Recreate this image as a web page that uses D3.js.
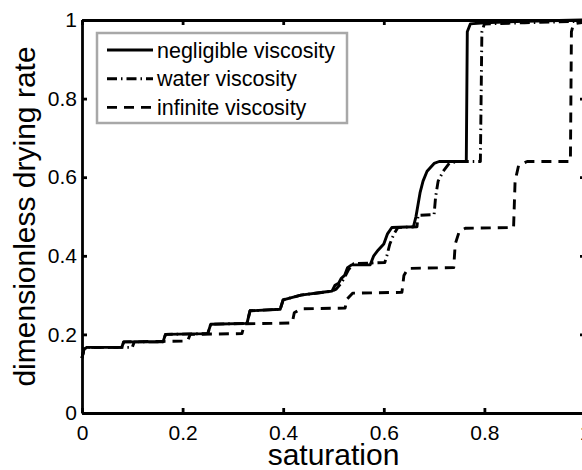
<!DOCTYPE html>
<html>
<head>
<meta charset="utf-8">
<title>drying rate vs saturation</title>
<script src="https://cdn.jsdelivr.net/npm/d3@7"></script>
<style>
  body { margin: 0; background: #fff; }
  svg { display: block; }
  .axis text { font: 21px "Liberation Sans", Arial, sans-serif; fill: #000; }
  .axis path, .axis line { fill: none; stroke: #000; stroke-width: 2.8; }
  .label { font: 30px "Liberation Sans", Arial, sans-serif; fill: #000; }
  .legend text { font: 21.5px "Liberation Sans", Arial, sans-serif; fill: #000; }
  .curve { fill: none; stroke: #000; stroke-width: 2.9; stroke-linejoin: round; }
</style>
</head>
<body>
<svg class="chart"></svg>
<script>
// series names, in legend order
var seriesNames = ["negligible viscosity", "water viscosity", "infinite viscosity"];

// negligible viscosity
var negS = [0, 0.004, 0.01, 0.079, 0.083, 0.161, 0.166, 0.25, 0.256, 0.328, 0.334, 0.394, 0.40, 0.435, 0.49, 0.497, 0.503, 0.51, 0.515, 0.522, 0.528, 0.536, 0.573, 0.58, 0.589, 0.60, 0.607, 0.616, 0.659, 0.664, 0.672, 0.678, 0.686, 0.70, 0.71, 0.764, 0.766, 0.772, 0.80, 0.88, 1.0];
var negR = [0.14, 0.163, 0.167, 0.167, 0.181, 0.181, 0.2, 0.202, 0.226, 0.228, 0.26, 0.264, 0.288, 0.30, 0.309, 0.31, 0.325, 0.33, 0.342, 0.35, 0.37, 0.377, 0.377, 0.40, 0.415, 0.43, 0.455, 0.472, 0.474, 0.50, 0.56, 0.59, 0.615, 0.635, 0.64, 0.64, 0.97, 0.99, 0.993, 0.997, 1.0];

// water viscosity
var watS = [0, 0.004, 0.01, 0.1, 0.104, 0.161, 0.166, 0.25, 0.256, 0.328, 0.334, 0.394, 0.40, 0.435, 0.497, 0.505, 0.515, 0.522, 0.53, 0.54, 0.602, 0.606, 0.612, 0.62, 0.628, 0.666, 0.668, 0.70, 0.703, 0.708, 0.718, 0.73, 0.745, 0.792, 0.795, 0.80, 0.88, 1.0];
var watR = [0.14, 0.163, 0.167, 0.167, 0.181, 0.181, 0.2, 0.202, 0.226, 0.228, 0.26, 0.264, 0.288, 0.30, 0.31, 0.315, 0.33, 0.345, 0.365, 0.38, 0.383, 0.40, 0.43, 0.455, 0.472, 0.474, 0.503, 0.505, 0.55, 0.59, 0.615, 0.635, 0.64, 0.64, 0.97, 0.99, 0.993, 0.997];

// infinite viscosity
var infS = [0, 0.004, 0.01, 0.079, 0.083, 0.21, 0.215, 0.318, 0.323, 0.418, 0.422, 0.435, 0.523, 0.527, 0.538, 0.636, 0.64, 0.648, 0.739, 0.742, 0.75, 0.762, 0.858, 0.861, 0.868, 0.885, 0.971, 0.973, 0.977, 1.0];
var infR = [0.14, 0.163, 0.167, 0.167, 0.181, 0.183, 0.2, 0.202, 0.227, 0.229, 0.255, 0.265, 0.267, 0.29, 0.305, 0.307, 0.35, 0.368, 0.37, 0.43, 0.462, 0.47, 0.472, 0.59, 0.63, 0.64, 0.64, 0.97, 0.99, 0.995];

var xTicks = [0, 0.2, 0.4, 0.6, 0.8, 1];
var yTicks = [0, 0.2, 0.4, 0.6, 0.8, 1];

var dashes = [null, "10,4,1.5,4", "10,7"];

var margin = {top: 20, right: 0, bottom: 57, left: 82},
    width = 503,
    height = 393;

var svg = d3.select(".chart")
  .attr("width", 582)
  .attr("height", 470);

var chart = svg.append("g")
  .attr("transform", "translate(" + margin.left + "," + margin.top + ")");

var x = d3.scaleLinear().domain([0, 1]).range([0, width]);
var y = d3.scaleLinear().domain([0, 1]).range([height, 0]);

var fmt = function(d) { return d3.format("")(d); };

chart.append("g")
  .attr("class", "axis")
  .attr("transform", "translate(0," + height + ")")
  .call(d3.axisBottom(x).tickValues(xTicks).tickFormat(fmt).tickSizeInner(-5).tickSizeOuter(0).tickPadding(12));
chart.append("g")
  .attr("class", "axis")
  .call(d3.axisLeft(y).tickValues(yTicks).tickFormat(fmt).tickSizeInner(-5).tickSizeOuter(0).tickPadding(5));
chart.append("g")
  .attr("class", "axis")
  .call(d3.axisTop(x).tickValues(xTicks).tickFormat("").tickSizeInner(-5).tickSizeOuter(0));
chart.append("g")
  .attr("class", "axis")
  .attr("transform", "translate(" + width + ",0)")
  .call(d3.axisRight(y).tickValues(yTicks).tickFormat("").tickSizeInner(-5).tickSizeOuter(0));

// curves
var series = [[negS, negR], [watS, watR], [infS, infR]].map(function(p) {
  return p[0].map(function(s, i) { return [s, p[1][i]]; });
});

var line = d3.line()
  .x(function(d) { return x(d[0]); })
  .y(function(d) { return y(d[1]); });

chart.selectAll(".curve")
  .data(series)
  .enter().append("path")
  .attr("class", "curve")
  .attr("d", line)
  .attr("stroke-dasharray", function(d, i) { return dashes[i]; });

// axis labels
chart.append("text")
  .attr("class", "label")
  .attr("x", width / 2)
  .attr("y", height + 52)
  .attr("text-anchor", "middle")
  .text("saturation");

chart.append("text")
  .attr("class", "label")
  .attr("transform", "translate(" + (35 - margin.left) + "," + (height / 2) + ") rotate(-90)")
  .attr("text-anchor", "middle")
  .text("dimensionless drying rate");

// legend
var legend = chart.append("g")
  .attr("class", "legend")
  .attr("transform", "translate(15,13)");

legend.append("rect")
  .attr("width", 250)
  .attr("height", 90)
  .attr("fill", "#fff")
  .attr("stroke", "#a8a8a8")
  .attr("stroke-width", 2.5);

var item = legend.selectAll(".item")
  .data(seriesNames)
  .enter().append("g")
  .attr("class", "item")
  .attr("transform", function(d, i) { return "translate(0," + (17 + i * 28.7) + ")"; });

item.append("line")
  .attr("class", "curve")
  .attr("x1", 10).attr("x2", 56)
  .attr("stroke-dasharray", function(d, i) { return dashes[i]; });

item.append("text")
  .attr("x", 60)
  .attr("dy", "0.35em")
  .text(function(d) { return d; });
</script>
</body>
</html>
